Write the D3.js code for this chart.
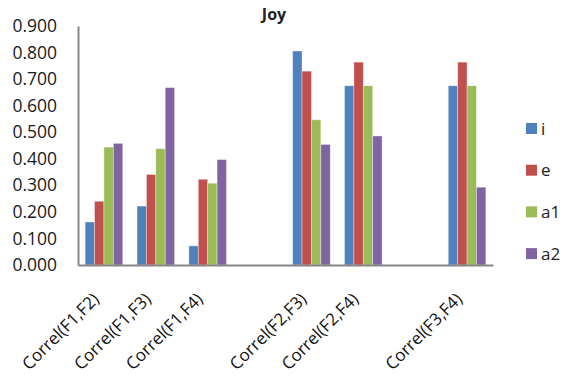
<!DOCTYPE html>
<html><head><meta charset="utf-8">
<script src="https://cdn.jsdelivr.net/npm/d3@7/dist/d3.min.js"></script>
<style>body{margin:0;background:#fff}svg{display:block}</style>
</head><body><svg id="c" width="563" height="376"></svg>
<script>
const categories = ["Correl(F1,F2)","Correl(F1,F3)","Correl(F1,F4)","","Correl(F2,F3)","Correl(F2,F4)"," ","Correl(F3,F4)"];
const seriesNames = ["i","e","a1","a2"];
const seriesColors = ["#4F81BD","#C0504D","#9BBB59","#8064A2"];
const iValues  = [0.162,0.222,0.072,null,0.806,0.675,null,0.675];
const eValues  = [0.240,0.341,0.323,null,0.730,0.764,null,0.764];
const a1Values = [0.444,0.438,0.308,null,0.547,0.675,null,0.675];
const a2Values = [0.458,0.668,0.397,null,0.454,0.486,null,0.293];
const yTicks = [0,0.1,0.2,0.3,0.4,0.5,0.6,0.7,0.8,0.9];
const title = "Joy";

const series = [iValues,eValues,a1Values,a2Values];
const svg = d3.select("#c");
const L=78, R=493, T=26, B=265;
const x = d3.scaleBand().domain(categories).range([L,R]).paddingInner(0.275).paddingOuter(0.1375);
const xs = d3.scaleBand().domain(seriesNames).range([0,x.bandwidth()]);
const y = d3.scaleLinear().domain([0,0.9]).range([B,T]);
const font = "'Open Sans', 'Liberation Sans', sans-serif";

const g = svg.append("g");
categories.forEach((c,ci)=>{
  series.forEach((s,si)=>{
    const v=s[ci]; if(v==null) return;
    g.append("rect").attr("x",x(c)+xs(seriesNames[si])).attr("y",y(v))
     .attr("width",xs.bandwidth()).attr("height",B-y(v))
     .attr("fill",seriesColors[si]).attr("stroke","rgba(255,255,255,0.45)").attr("stroke-width",0.8);
  });
});

// y axis
const ya = svg.append("g").attr("transform",`translate(${L},0)`)
  .call(d3.axisLeft(y).tickValues(yTicks).tickFormat(d3.format(".3f")).tickSize(0).tickPadding(21));
ya.select(".domain").attr("stroke","#868686").attr("stroke-width",2);
ya.selectAll("text").attr("font-family",font).attr("font-size",17.5).attr("fill","#1a1a1a");

// x axis
const xa = svg.append("g").attr("transform",`translate(0,${B})`)
  .call(d3.axisBottom(x).tickSize(0).tickFormat(d=>d.trim()));
xa.select(".domain").attr("stroke","#868686").attr("stroke-width",2);
xa.selectAll("text").attr("font-family",font).attr("font-size",17).attr("fill","#111")
  .attr("text-anchor","end").attr("dy",0)
  .attr("transform","translate(-6,33) rotate(-45)");

// title
svg.append("text").attr("x",274).attr("y",20).attr("text-anchor","middle")
  .attr("font-family",font).attr("font-weight","bold").attr("font-size",16).attr("fill","#222").text(title);

// legend
const leg = svg.append("g");
seriesNames.forEach((n,i)=>{
  const cy = 128.5 + i*41.7;
  leg.append("rect").attr("x",526).attr("y",cy-5.5).attr("width",11).attr("height",11).attr("fill",seriesColors[i]);
  leg.append("text").attr("x",541).attr("y",cy+6).attr("font-family",font).attr("font-size",17).attr("fill","#222").text(n);
});
</script></body></html>
